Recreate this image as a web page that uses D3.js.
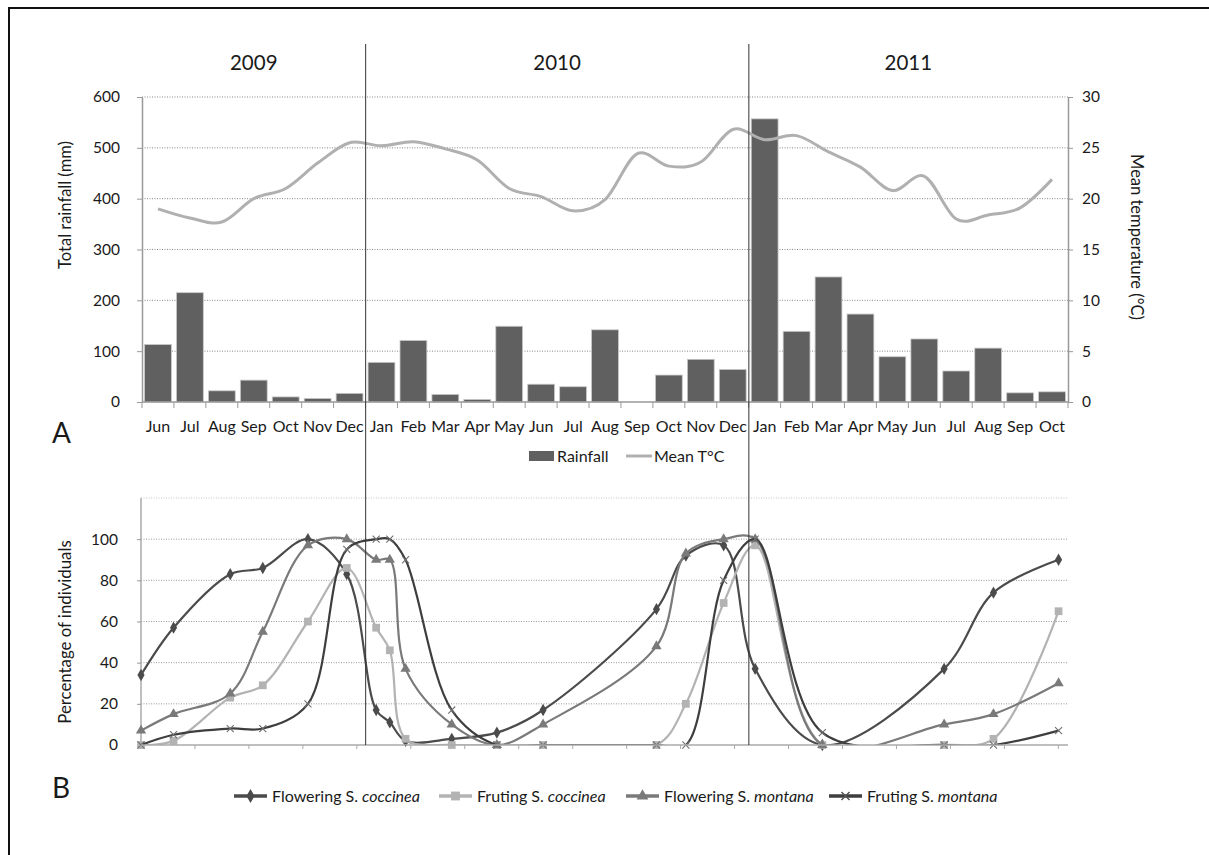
<!DOCTYPE html>
<html lang="en">
<head>
<meta charset="UTF-8">
<title>Rainfall, temperature and phenology</title>
<style>
  body { margin: 0; background: #fff; }
  svg { font-family: Lato, 'Open Sans', sans-serif; }
  svg text { fill: #1a1a1a; }
</style>
</head>
<body>
<div id="chart"></div>
<script src="https://d3js.org/d3.v7.min.js"></script>
<script>
// ---- data ----
var months = ["Jun","Jul","Aug","Sep","Oct","Nov","Dec",
              "Jan","Feb","Mar","Apr","May","Jun","Jul","Aug","Sep","Oct","Nov","Dec",
              "Jan","Feb","Mar","Apr","May","Jun","Jul","Aug","Sep","Oct"];
var years = ["2009", "2010", "2011"];
var yearStarts = [0, 7, 19];          // index of first month of each year
var rainfall = [113, 215, 22, 43, 10, 7, 17,
                78, 121, 15, 5, 149, 35, 30, 142, 0, 53, 84, 64,
                557, 139, 246, 173, 89, 124, 61, 106, 18, 20];
var temperature = [19.0, 18.1, 17.7, 20.0, 21.0, 23.5, 25.5,
                   25.2, 25.6, 24.9, 23.8, 21.0, 20.2, 18.8, 19.9, 24.4, 23.2, 23.6, 26.8,
                   25.8, 26.2, 24.6, 23.1, 20.8, 22.2, 18.0, 18.4, 19.1, 21.9];
var rainTicks = [0, 100, 200, 300, 400, 500, 600];
var tempTicks = [0, 5, 10, 15, 20, 25, 30];

// sampling dates for panel B
var sampleDates = ["2009-06-01","2009-07-02","2009-08-25","2009-09-25","2009-11-07","2009-12-14",
                   "2010-01-11","2010-01-24","2010-02-08","2010-03-24","2010-05-06","2010-06-19",
                   "2010-10-05","2010-11-02","2010-12-08","2011-01-07","2011-03-12","2011-07-06",
                   "2011-08-22","2011-10-23"];
var flowCoccinea  = [34, 57, 83, 86, 100, 83, 17, 11, 2, 3, 6, 17, 66, 92, 97, 37, 0, 37, 74, 90];
var fruitCoccinea = [0, 2, 23, 29, 60, 86, 57, 46, 3, 0, 0, 0, 0, 20, 69, 97, 0, 0, 3, 65];
var flowMontana   = [7, 15, 25, 55, 97, 100, 90, 90, 37, 10, 0, 10, 48, 93, 100, 100, 0, 10, 15, 30];
var fruitMontana  = [0, 5, 8, 8, 20, 95, 100, 100, 90, 17, 0, 0, 0, 0, 80, 100, 6, 0, 0, 7];
var pctTicks = [0, 20, 40, 60, 80, 100];
var pctGrid = [20, 40, 60, 80, 100, 120];

var series = [
  {name: "Flowering ", sp: "coccinea", values: flowCoccinea,  color: "#4b4b4b", symbol: d3.symbolDiamond,  size: 44},
  {name: "Fruting ",   sp: "coccinea", values: fruitCoccinea, color: "#b3b3b3", symbol: d3.symbolSquare,   size: 60},
  {name: "Flowering ", sp: "montana",  values: flowMontana,   color: "#7a7a7a", symbol: d3.symbolTriangle, size: 46},
  {name: "Fruting ",   sp: "montana",  values: fruitMontana,  color: "#3e3e3e", symbol: d3.symbolX,        size: 34}
];

// ---- canvas ----
var w = 1209, h = 855;
var svg = d3.select("#chart").append("svg").attr("width", w).attr("height", h);

// outer frame (runs off the right and bottom edges)
svg.append("rect").attr("x", 9).attr("y", 8).attr("width", 1260).attr("height", 900)
  .attr("fill", "none").attr("stroke", "#111").attr("stroke-width", 2);

// ---- panel A ----
var x = d3.scaleBand().domain(d3.range(months.length)).range([142, 1068])
  .paddingInner(0.16).paddingOuter(0.08);
var yRain = d3.scaleLinear().domain([0, 600]).range([402, 97]);
var yTemp = d3.scaleLinear().domain([0, 30]).range([402, 97]);
var step = x.step();

var gA = svg.append("g");

// gridlines
gA.selectAll(".grid").data(rainTicks.slice(1)).enter().append("line")
  .attr("x1", 142).attr("x2", 1068)
  .attr("y1", d => yRain(d)).attr("y2", d => yRain(d))
  .attr("stroke", "#888").attr("stroke-dasharray", "1,1.5");

// bars
gA.selectAll(".bar").data(rainfall).enter().append("rect")
  .attr("x", (d, i) => x(i)).attr("width", x.bandwidth())
  .attr("y", d => yRain(d)).attr("height", d => yRain(0) - yRain(d))
  .attr("fill", "#606060").attr("stroke", "#c8c8c8").attr("stroke-width", 0.8);

// temperature line
var tempLine = d3.line()
  .x((d, i) => x(i) + x.bandwidth() / 2)
  .y(d => yTemp(d))
  .curve(d3.curveCatmullRom.alpha(0));
gA.append("path").datum(temperature).attr("d", tempLine)
  .attr("fill", "none").attr("stroke", "#b0b0b0").attr("stroke-width", 3);

// left axis
var axL = gA.append("g").attr("transform", "translate(142,0)")
  .call(d3.axisLeft(yRain).tickValues(rainTicks).tickSize(5).tickSizeOuter(0).tickPadding(17));
// right axis
var axR = gA.append("g").attr("transform", "translate(1068,0)")
  .call(d3.axisRight(yTemp).tickValues(tempTicks).tickSize(5).tickSizeOuter(0).tickPadding(9));
[axL, axR].forEach(function (a) {
  a.select(".domain").attr("stroke", "#999").attr("stroke-width", 1.5);
  a.selectAll(".tick line").attr("stroke", "#999");
  a.selectAll(".tick text").attr("font-size", 15.5).attr("fill", "#1a1a1a").attr("font-family", "Lato, sans-serif");
});

// x axis baseline + ticks + month labels
gA.append("line").attr("x1", 142).attr("x2", 1068).attr("y1", 402).attr("y2", 402)
  .attr("stroke", "#999").attr("stroke-width", 1.5);
gA.selectAll(".xt").data(d3.range(months.length + 1)).enter().append("line")
  .attr("x1", d => 142 + d * step).attr("x2", d => 142 + d * step)
  .attr("y1", 402).attr("y2", 408).attr("stroke", "#999");
gA.selectAll(".ml").data(months).enter().append("text")
  .attr("x", (d, i) => x(i) + x.bandwidth() / 2).attr("y", 432)
  .attr("text-anchor", "middle").attr("font-size", 16).text(d => d);

// axis titles
gA.append("text").attr("transform", "translate(71,205) rotate(-90)")
  .attr("text-anchor", "middle").attr("font-size", 16.5).text("Total rainfall (mm)");
gA.append("text").attr("transform", "translate(1131,237) rotate(90)")
  .attr("text-anchor", "middle").attr("font-size", 16.5).text("Mean temperature (°C)");

// year labels
var yearEnds = yearStarts.slice(1).concat([months.length]);
gA.selectAll(".yr").data(years).enter().append("text")
  .attr("x", (d, i) => 142 + (yearStarts[i] + yearEnds[i]) / 2 * step)
  .attr("y", 70).attr("text-anchor", "middle").attr("font-size", 20.5).text(d => d);

// legend A
gA.append("rect").attr("x", 529).attr("y", 451).attr("width", 25).attr("height", 10).attr("fill", "#606060");
gA.append("text").attr("x", 557).attr("y", 461.5).attr("font-size", 16).text("Rainfall");
gA.append("line").attr("x1", 626).attr("x2", 652).attr("y1", 456).attr("y2", 456)
  .attr("stroke", "#b0b0b0").attr("stroke-width", 3);
gA.append("text").attr("x", 654).attr("y", 461.5).attr("font-size", 16).text("Mean T°C");

svg.append("text").attr("x", 52).attr("y", 443).attr("font-size", 28).text("A");
svg.append("text").attr("x", 52).attr("y", 798).attr("font-size", 28).text("B");

// ---- panel B ----
var parse = d3.utcParse("%Y-%m-%d");
var dates = sampleDates.map(parse);
var tStart = Date.UTC(2009, 5, 1), tEnd = Date.UTC(2011, 10, 1);
var xT = d3.scaleUtc().domain([tStart, tEnd]).range([141, 1068]);
var yPct = d3.scaleLinear().domain([0, 120]).range([745, 498]);
var gB = svg.append("g");

// lines are clipped to the plot area, as in the spreadsheet chart
svg.append("defs").append("clipPath").attr("id", "plotB").append("rect")
  .attr("x", 130).attr("y", 480).attr("width", 950).attr("height", 745 - 480);

gB.selectAll(".gridb").data(pctGrid).enter().append("line")
  .attr("x1", 141).attr("x2", 1068)
  .attr("y1", d => yPct(d)).attr("y2", d => yPct(d))
  .attr("stroke", d => d === 120 ? "#c4c4c4" : "#999").attr("stroke-dasharray", "1,1.5");

var axB = gB.append("g").attr("transform", "translate(141,0)")
  .call(d3.axisLeft(yPct).tickValues(pctTicks).tickSize(4).tickSizeOuter(0).tickPadding(19));
axB.select(".domain").attr("d", "M0," + yPct(120) + "V" + yPct(0)).attr("stroke", "#aaa").attr("stroke-width", 1.5);
axB.selectAll(".tick line").attr("stroke", "#999");
axB.selectAll(".tick text").attr("font-size", 15.5).attr("fill", "#1a1a1a").attr("font-family", "Lato, sans-serif");

gB.append("text").attr("transform", "translate(71,632) rotate(-90)")
  .attr("text-anchor", "middle").attr("font-size", 16.8).text("Percentage of individuals");

var pctLine = d3.line().x((d, i) => xT(dates[i])).y(d => yPct(d)).curve(d3.curveCatmullRom.alpha(0.5));

series.forEach(function (s) {
  var g = gB.append("g");
  g.append("path").datum(s.values).attr("d", pctLine).attr("clip-path", "url(#plotB)")
    .attr("fill", "none").attr("stroke", s.color).attr("stroke-width", 2.2);
  var isX = s.symbol === d3.symbolX;
  g.selectAll("path.m").data(s.values).enter().append("path").attr("class", "m")
    .attr("transform", (d, i) => "translate(" + xT(dates[i]) + "," + yPct(d) + ")")
    .attr("d", d3.symbol().type(s.symbol).size(s.size))
    .attr("fill", isX ? "none" : s.color)
    .attr("stroke", isX ? "#707070" : "none").attr("stroke-width", 1.1);
});

// x axis of panel B drawn over the clipped lines
gB.append("line").attr("x1", 141).attr("x2", 1068).attr("y1", 745).attr("y2", 745)
  .attr("stroke", "#aaa").attr("stroke-width", 1.5);
var tickStepDays = 51.4;
gB.selectAll(".xtb").data(d3.range(18)).enter().append("line")
  .attr("x1", d => xT(tStart + d * tickStepDays * 864e5)).attr("x2", d => xT(tStart + d * tickStepDays * 864e5))
  .attr("y1", 745).attr("y2", 749).attr("stroke", "#aaa");

// year separators through both panels
var seps = [Date.UTC(2010, 0, 1), Date.UTC(2011, 0, 1)];
svg.selectAll(".sep").data(seps).enter().append("line")
  .attr("x1", d => xT(d)).attr("x2", d => xT(d)).attr("y1", 44).attr("y2", 745)
  .attr("stroke", "#333").attr("stroke-width", 1);

// legend B
var legX = [234, 439, 626, 829];
var legG = gB.selectAll(".leg").data(series).enter().append("g")
  .attr("transform", (d, i) => "translate(" + legX[i] + ",796)");
legG.append("line").attr("x1", 0).attr("x2", 33).attr("y1", 0).attr("y2", 0)
  .attr("stroke", d => d.color).attr("stroke-width", 3.5);
legG.append("path").attr("transform", "translate(16.5,0)")
  .attr("d", d => d3.symbol().type(d.symbol).size(d.size * 1.3)())
  .attr("fill", d => d.symbol === d3.symbolX ? "none" : d.color)
  .attr("stroke", d => d.symbol === d3.symbolX ? "#555" : "none").attr("stroke-width", 1.5);
var lt = legG.append("text").attr("x", 38).attr("y", 5.5).attr("font-size", 16).text(null);
lt.append("tspan").text(d => d.name + "S. ");
lt.append("tspan").attr("font-style", "italic").text(d => d.sp);
</script>
</body>
</html>
